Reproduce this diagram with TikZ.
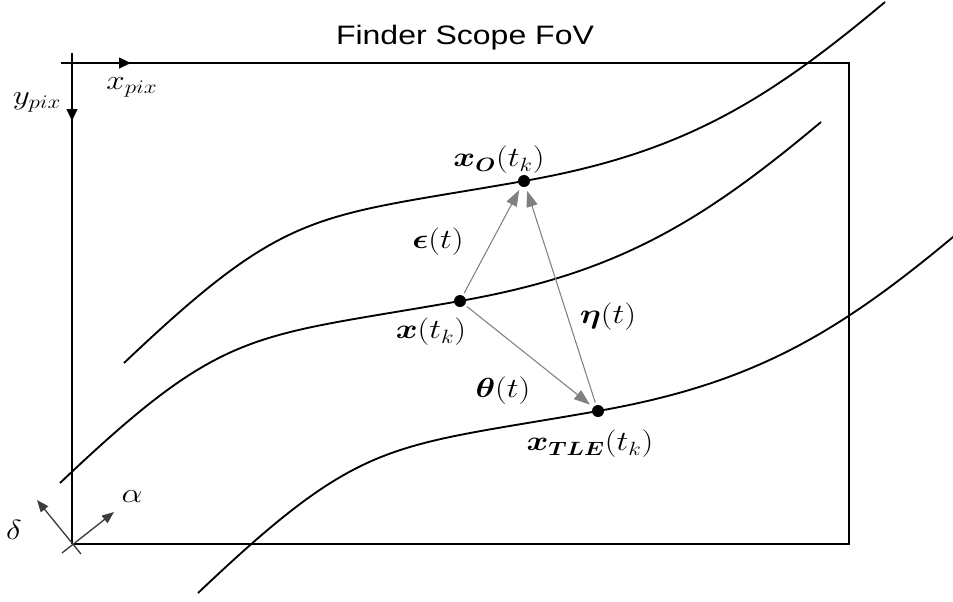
\documentclass[tikz,border=0pt]{standalone}
\usepackage{amsmath,bm}
\usepackage{fontspec}
\setsansfont{Liberation Sans}
\usetikzlibrary{arrows.meta}
\newcommand\stretchx[1]{\scalebox{1.2}[1]{#1}}
\tikzset{
  frame/.style={line width=1.5pt, black},
  curve/.style={line width=1.4pt, black},
  vec/.style={line width=0.8pt, draw={rgb,255:red,128;green,128;blue,128}, -{Triangle[length=12pt,width=8.5pt]}, shorten >=3pt, shorten <=2pt},
  axarrow/.style={line width=1pt, draw={rgb,255:red,60;green,60;blue,60}, -{Triangle[length=9pt,width=7pt]}},
  dot/.style={circle, fill=black, inner sep=0pt, minimum size=9pt},
  lbl/.style={inner sep=1pt, font=\fontsize{21}{24}\selectfont},
}
\def\trajpath{(124,363) .. controls (289.7,205.7) and (313,218.3) .. (524,181) .. controls (679.6,153.6) and (764,103.6) .. (885,2)}
\begin{document}
\begin{tikzpicture}[x=0.75pt,y=-0.75pt]
\useasboundingbox (0,0) rectangle (953,601);
% frame
\coordinate (tl) at (72,63);
\coordinate (tr) at (849,63);
\coordinate (br) at (849,544);
\coordinate (bl) at (72,544);
\coordinate (hx) at (61,63);
\coordinate (vy) at (72,53);
\draw[frame] (hx) -- (tr) -- (br) -- (bl);
\draw[frame] (vy) -- (bl);
% pixel axis arrowheads
\coordinate (xa0) at (110,63);
\coordinate (xa1) at (131,63);
\coordinate (ya0) at (72,100);
\coordinate (ya1) at (72,121);
\draw[line width=1.5pt, -{Triangle[length=9pt,width=8pt]}] (xa0) -- (xa1);
\draw[line width=1.5pt, -{Triangle[length=9pt,width=8pt]}] (ya0) -- (ya1);
\node[lbl] (xpix) at (132,87) {\stretchx{$x_{pix}$}};
\node[lbl] (ypix) at (37,102) {\stretchx{$y_{pix}$}};
% title
\node[font=\sffamily\fontsize{20}{24}\selectfont] (title) at (465,38) {\stretchx{Finder Scope FoV}};
% celestial axes
\coordinate (d0) at (81,554);
\coordinate (d1) at (37,500);
\coordinate (a0) at (62,553);
\coordinate (a1) at (114,512);
\draw[axarrow] (d0) -- (d1);
\draw[axarrow] (a0) -- (a1);
\node[lbl] (delta) at (14,530) {\stretchx{$\delta$}};
\node[lbl] (alpha) at (132,497) {\stretchx{$\alpha$}};
% curves (same trajectory shape, shifted)
\draw[curve] \trajpath;
\draw[curve, shift={(-64,120)}] \trajpath;
\draw[curve, shift={(74,230)}] \trajpath;
% points
\node[dot] (xo) at (524,181) {};
\node[dot] (xk) at (460,301) {};
\node[dot] (xt) at (598,411) {};
% vectors
\draw[vec] (xk) -- (xo);
\draw[vec] (xt) -- (xo);
\draw[vec] (xk) -- (xt);
% labels
\node[lbl] (lxo) at (499,160) {\stretchx{$\bm{x}_{\bm{O}}(t_k)$}};
\node[lbl] (leps) at (438,242) {\stretchx{$\bm{\epsilon}(t)$}};
\node[lbl] (lxk) at (431,332) {\stretchx{$\bm{x}(t_k)$}};
\node[lbl] (leta) at (608,317) {\stretchx{$\bm{\eta}(t)$}};
\node[lbl] (lth) at (503,391) {\stretchx{$\bm{\theta}(t)$}};
\node[lbl] (lxt) at (590,444) {\stretchx{$\bm{x}_{\bm{TLE}}(t_k)$}};
\end{tikzpicture}
\end{document}
